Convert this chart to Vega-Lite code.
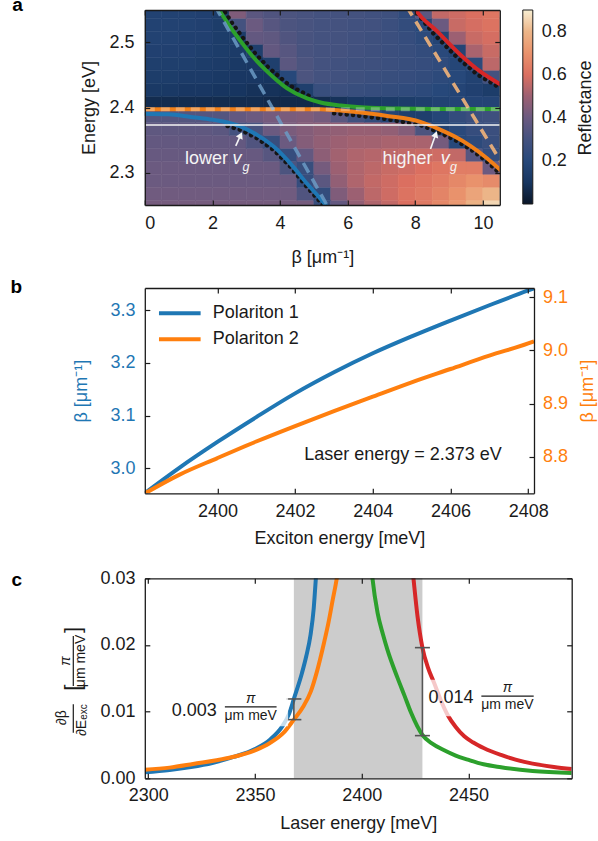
{
"$schema": "https://vega.github.io/schema/vega-lite/v6.json",
"padding": {"left": 9.8, "top": -5, "right": 5, "bottom": 5},
"background": "white",
"config": {
  "font": "Liberation Sans",
  "view": {"stroke": null},
  "axis": {"grid": false, "domain": true, "domainColor": "#1a1a1a", "domainWidth": 1.3, "tickSize": -5, "tickColor": "#1a1a1a", "tickWidth": 1.2, "labelFont": "Liberation Sans", "labelFontSize": 18, "labelColor": "#1a1a1a", "titleFont": "Liberation Sans", "titleFontSize": 18, "titleFontWeight": "normal", "titleColor": "#1a1a1a"},
  "legend": {"labelFont": "Liberation Sans", "labelFontSize": 18, "labelColor": "#1a1a1a"},
  "text": {"font": "Liberation Sans", "fontSize": 18}
},
"datasets": {
  "heat": [
{"b":0,"e":2.2375,"r":0.42},{"b":0.5,"e":2.2375,"r":0.42},{"b":1,"e":2.2375,"r":0.42},{"b":1.5,"e":2.2375,"r":0.42},{"b":2,"e":2.2375,"r":0.42},{"b":2.5,"e":2.2375,"r":0.42},{"b":3,"e":2.2375,"r":0.42},{"b":3.5,"e":2.2375,"r":0.42},{"b":4,"e":2.2375,"r":0.42},{"b":4.5,"e":2.2375,"r":0.42},{"b":5,"e":2.2375,"r":0.26},{"b":5.5,"e":2.2375,"r":0.38},{"b":6,"e":2.2375,"r":0.48},{"b":6.5,"e":2.2375,"r":0.53},{"b":7,"e":2.2375,"r":0.56},{"b":7.5,"e":2.2375,"r":0.6},{"b":8,"e":2.2375,"r":0.63},{"b":8.5,"e":2.2375,"r":0.67},{"b":9,"e":2.2375,"r":0.72},{"b":9.5,"e":2.2375,"r":0.79},{"b":10,"e":2.2375,"r":0.86},
{"b":0,"e":2.2575,"r":0.41},{"b":0.5,"e":2.2575,"r":0.41},{"b":1,"e":2.2575,"r":0.41},{"b":1.5,"e":2.2575,"r":0.41},{"b":2,"e":2.2575,"r":0.41},{"b":2.5,"e":2.2575,"r":0.41},{"b":3,"e":2.2575,"r":0.41},{"b":3.5,"e":2.2575,"r":0.41},{"b":4,"e":2.2575,"r":0.41},{"b":4.5,"e":2.2575,"r":0.33},{"b":5,"e":2.2575,"r":0.24},{"b":5.5,"e":2.2575,"r":0.44},{"b":6,"e":2.2575,"r":0.5},{"b":6.5,"e":2.2575,"r":0.55},{"b":7,"e":2.2575,"r":0.58},{"b":7.5,"e":2.2575,"r":0.61},{"b":8,"e":2.2575,"r":0.63},{"b":8.5,"e":2.2575,"r":0.66},{"b":9,"e":2.2575,"r":0.7},{"b":9.5,"e":2.2575,"r":0.75},{"b":10,"e":2.2575,"r":0.8},
{"b":0,"e":2.2775,"r":0.4},{"b":0.5,"e":2.2775,"r":0.4},{"b":1,"e":2.2775,"r":0.4},{"b":1.5,"e":2.2775,"r":0.4},{"b":2,"e":2.2775,"r":0.4},{"b":2.5,"e":2.2775,"r":0.4},{"b":3,"e":2.2775,"r":0.4},{"b":3.5,"e":2.2775,"r":0.4},{"b":4,"e":2.2775,"r":0.4},{"b":4.5,"e":2.2775,"r":0.25},{"b":5,"e":2.2775,"r":0.36},{"b":5.5,"e":2.2775,"r":0.48},{"b":6,"e":2.2775,"r":0.53},{"b":6.5,"e":2.2775,"r":0.56},{"b":7,"e":2.2775,"r":0.58},{"b":7.5,"e":2.2775,"r":0.6},{"b":8,"e":2.2775,"r":0.62},{"b":8.5,"e":2.2775,"r":0.64},{"b":9,"e":2.2775,"r":0.67},{"b":9.5,"e":2.2775,"r":0.7},{"b":10,"e":2.2775,"r":0.68},
{"b":0,"e":2.2975,"r":0.4},{"b":0.5,"e":2.2975,"r":0.4},{"b":1,"e":2.2975,"r":0.4},{"b":1.5,"e":2.2975,"r":0.4},{"b":2,"e":2.2975,"r":0.4},{"b":2.5,"e":2.2975,"r":0.4},{"b":3,"e":2.2975,"r":0.4},{"b":3.5,"e":2.2975,"r":0.4},{"b":4,"e":2.2975,"r":0.32},{"b":4.5,"e":2.2975,"r":0.26},{"b":5,"e":2.2975,"r":0.42},{"b":5.5,"e":2.2975,"r":0.5},{"b":6,"e":2.2975,"r":0.53},{"b":6.5,"e":2.2975,"r":0.55},{"b":7,"e":2.2975,"r":0.57},{"b":7.5,"e":2.2975,"r":0.58},{"b":8,"e":2.2975,"r":0.6},{"b":8.5,"e":2.2975,"r":0.62},{"b":9,"e":2.2975,"r":0.64},{"b":9.5,"e":2.2975,"r":0.64},{"b":10,"e":2.2975,"r":0.4},
{"b":0,"e":2.3175,"r":0.39},{"b":0.5,"e":2.3175,"r":0.39},{"b":1,"e":2.3175,"r":0.39},{"b":1.5,"e":2.3175,"r":0.39},{"b":2,"e":2.3175,"r":0.39},{"b":2.5,"e":2.3175,"r":0.39},{"b":3,"e":2.3175,"r":0.39},{"b":3.5,"e":2.3175,"r":0.35},{"b":4,"e":2.3175,"r":0.25},{"b":4.5,"e":2.3175,"r":0.38},{"b":5,"e":2.3175,"r":0.47},{"b":5.5,"e":2.3175,"r":0.51},{"b":6,"e":2.3175,"r":0.53},{"b":6.5,"e":2.3175,"r":0.54},{"b":7,"e":2.3175,"r":0.55},{"b":7.5,"e":2.3175,"r":0.56},{"b":8,"e":2.3175,"r":0.57},{"b":8.5,"e":2.3175,"r":0.58},{"b":9,"e":2.3175,"r":0.56},{"b":9.5,"e":2.3175,"r":0.35},{"b":10,"e":2.3175,"r":0.24},
{"b":0,"e":2.3375,"r":0.38},{"b":0.5,"e":2.3375,"r":0.38},{"b":1,"e":2.3375,"r":0.38},{"b":1.5,"e":2.3375,"r":0.38},{"b":2,"e":2.3375,"r":0.38},{"b":2.5,"e":2.3375,"r":0.38},{"b":3,"e":2.3375,"r":0.33},{"b":3.5,"e":2.3375,"r":0.26},{"b":4,"e":2.3375,"r":0.4},{"b":4.5,"e":2.3375,"r":0.45},{"b":5,"e":2.3375,"r":0.48},{"b":5.5,"e":2.3375,"r":0.5},{"b":6,"e":2.3375,"r":0.51},{"b":6.5,"e":2.3375,"r":0.51},{"b":7,"e":2.3375,"r":0.52},{"b":7.5,"e":2.3375,"r":0.52},{"b":8,"e":2.3375,"r":0.52},{"b":8.5,"e":2.3375,"r":0.42},{"b":9,"e":2.3375,"r":0.2},{"b":9.5,"e":2.3375,"r":0.22},{"b":10,"e":2.3375,"r":0.26},
{"b":0,"e":2.3575,"r":0.37},{"b":0.5,"e":2.3575,"r":0.37},{"b":1,"e":2.3575,"r":0.37},{"b":1.5,"e":2.3575,"r":0.37},{"b":2,"e":2.3575,"r":0.36},{"b":2.5,"e":2.3575,"r":0.3},{"b":3,"e":2.3575,"r":0.31},{"b":3.5,"e":2.3575,"r":0.4},{"b":4,"e":2.3575,"r":0.43},{"b":4.5,"e":2.3575,"r":0.45},{"b":5,"e":2.3575,"r":0.47},{"b":5.5,"e":2.3575,"r":0.48},{"b":6,"e":2.3575,"r":0.49},{"b":6.5,"e":2.3575,"r":0.49},{"b":7,"e":2.3575,"r":0.48},{"b":7.5,"e":2.3575,"r":0.45},{"b":8,"e":2.3575,"r":0.32},{"b":8.5,"e":2.3575,"r":0.17},{"b":9,"e":2.3575,"r":0.21},{"b":9.5,"e":2.3575,"r":0.25},{"b":10,"e":2.3575,"r":0.27},
{"b":0,"e":2.3775,"r":0.34},{"b":0.5,"e":2.3775,"r":0.34},{"b":1,"e":2.3775,"r":0.34},{"b":1.5,"e":2.3775,"r":0.34},{"b":2,"e":2.3775,"r":0.34},{"b":2.5,"e":2.3775,"r":0.38},{"b":3,"e":2.3775,"r":0.4},{"b":3.5,"e":2.3775,"r":0.42},{"b":4,"e":2.3775,"r":0.43},{"b":4.5,"e":2.3775,"r":0.44},{"b":5,"e":2.3775,"r":0.42},{"b":5.5,"e":2.3775,"r":0.36},{"b":6,"e":2.3775,"r":0.29},{"b":6.5,"e":2.3775,"r":0.24},{"b":7,"e":2.3775,"r":0.18},{"b":7.5,"e":2.3775,"r":0.15},{"b":8,"e":2.3775,"r":0.15},{"b":8.5,"e":2.3775,"r":0.19},{"b":9,"e":2.3775,"r":0.24},{"b":9.5,"e":2.3775,"r":0.27},{"b":10,"e":2.3775,"r":0.28},
{"b":0,"e":2.3975,"r":0.07},{"b":0.5,"e":2.3975,"r":0.07},{"b":1,"e":2.3975,"r":0.07},{"b":1.5,"e":2.3975,"r":0.07},{"b":2,"e":2.3975,"r":0.07},{"b":2.5,"e":2.3975,"r":0.07},{"b":3,"e":2.3975,"r":0.07},{"b":3.5,"e":2.3975,"r":0.06},{"b":4,"e":2.3975,"r":0.06},{"b":4.5,"e":2.3975,"r":0.06},{"b":5,"e":2.3975,"r":0.07},{"b":5.5,"e":2.3975,"r":0.09},{"b":6,"e":2.3975,"r":0.11},{"b":6.5,"e":2.3975,"r":0.12},{"b":7,"e":2.3975,"r":0.13},{"b":7.5,"e":2.3975,"r":0.14},{"b":8,"e":2.3975,"r":0.15},{"b":8.5,"e":2.3975,"r":0.17},{"b":9,"e":2.3975,"r":0.18},{"b":9.5,"e":2.3975,"r":0.18},{"b":10,"e":2.3975,"r":0.18},
{"b":0,"e":2.4175,"r":0.12},{"b":0.5,"e":2.4175,"r":0.12},{"b":1,"e":2.4175,"r":0.11},{"b":1.5,"e":2.4175,"r":0.11},{"b":2,"e":2.4175,"r":0.1},{"b":2.5,"e":2.4175,"r":0.1},{"b":3,"e":2.4175,"r":0.09},{"b":3.5,"e":2.4175,"r":0.09},{"b":4,"e":2.4175,"r":0.08},{"b":4.5,"e":2.4175,"r":0.15},{"b":5,"e":2.4175,"r":0.26},{"b":5.5,"e":2.4175,"r":0.27},{"b":6,"e":2.4175,"r":0.26},{"b":6.5,"e":2.4175,"r":0.25},{"b":7,"e":2.4175,"r":0.24},{"b":7.5,"e":2.4175,"r":0.23},{"b":8,"e":2.4175,"r":0.22},{"b":8.5,"e":2.4175,"r":0.2},{"b":9,"e":2.4175,"r":0.18},{"b":9.5,"e":2.4175,"r":0.16},{"b":10,"e":2.4175,"r":0.14},
{"b":0,"e":2.4375,"r":0.14},{"b":0.5,"e":2.4375,"r":0.14},{"b":1,"e":2.4375,"r":0.13},{"b":1.5,"e":2.4375,"r":0.13},{"b":2,"e":2.4375,"r":0.12},{"b":2.5,"e":2.4375,"r":0.11},{"b":3,"e":2.4375,"r":0.11},{"b":3.5,"e":2.4375,"r":0.1},{"b":4,"e":2.4375,"r":0.2},{"b":4.5,"e":2.4375,"r":0.32},{"b":5,"e":2.4375,"r":0.3},{"b":5.5,"e":2.4375,"r":0.29},{"b":6,"e":2.4375,"r":0.28},{"b":6.5,"e":2.4375,"r":0.27},{"b":7,"e":2.4375,"r":0.26},{"b":7.5,"e":2.4375,"r":0.25},{"b":8,"e":2.4375,"r":0.24},{"b":8.5,"e":2.4375,"r":0.22},{"b":9,"e":2.4375,"r":0.2},{"b":9.5,"e":2.4375,"r":0.17},{"b":10,"e":2.4375,"r":0.3},
{"b":0,"e":2.4575,"r":0.15},{"b":0.5,"e":2.4575,"r":0.15},{"b":1,"e":2.4575,"r":0.15},{"b":1.5,"e":2.4575,"r":0.14},{"b":2,"e":2.4575,"r":0.13},{"b":2.5,"e":2.4575,"r":0.12},{"b":3,"e":2.4575,"r":0.11},{"b":3.5,"e":2.4575,"r":0.15},{"b":4,"e":2.4575,"r":0.36},{"b":4.5,"e":2.4575,"r":0.32},{"b":5,"e":2.4575,"r":0.3},{"b":5.5,"e":2.4575,"r":0.29},{"b":6,"e":2.4575,"r":0.28},{"b":6.5,"e":2.4575,"r":0.28},{"b":7,"e":2.4575,"r":0.27},{"b":7.5,"e":2.4575,"r":0.26},{"b":8,"e":2.4575,"r":0.25},{"b":8.5,"e":2.4575,"r":0.23},{"b":9,"e":2.4575,"r":0.19},{"b":9.5,"e":2.4575,"r":0.22},{"b":10,"e":2.4575,"r":0.55},
{"b":0,"e":2.4775,"r":0.16},{"b":0.5,"e":2.4775,"r":0.16},{"b":1,"e":2.4775,"r":0.16},{"b":1.5,"e":2.4775,"r":0.15},{"b":2,"e":2.4775,"r":0.14},{"b":2.5,"e":2.4775,"r":0.13},{"b":3,"e":2.4775,"r":0.15},{"b":3.5,"e":2.4775,"r":0.38},{"b":4,"e":2.4775,"r":0.35},{"b":4.5,"e":2.4775,"r":0.31},{"b":5,"e":2.4775,"r":0.3},{"b":5.5,"e":2.4775,"r":0.3},{"b":6,"e":2.4775,"r":0.29},{"b":6.5,"e":2.4775,"r":0.28},{"b":7,"e":2.4775,"r":0.27},{"b":7.5,"e":2.4775,"r":0.26},{"b":8,"e":2.4775,"r":0.24},{"b":8.5,"e":2.4775,"r":0.21},{"b":9,"e":2.4775,"r":0.18},{"b":9.5,"e":2.4775,"r":0.52},{"b":10,"e":2.4775,"r":0.57},
{"b":0,"e":2.4975,"r":0.17},{"b":0.5,"e":2.4975,"r":0.17},{"b":1,"e":2.4975,"r":0.16},{"b":1.5,"e":2.4975,"r":0.16},{"b":2,"e":2.4975,"r":0.14},{"b":2.5,"e":2.4975,"r":0.14},{"b":3,"e":2.4975,"r":0.38},{"b":3.5,"e":2.4975,"r":0.37},{"b":4,"e":2.4975,"r":0.33},{"b":4.5,"e":2.4975,"r":0.31},{"b":5,"e":2.4975,"r":0.3},{"b":5.5,"e":2.4975,"r":0.3},{"b":6,"e":2.4975,"r":0.29},{"b":6.5,"e":2.4975,"r":0.28},{"b":7,"e":2.4975,"r":0.27},{"b":7.5,"e":2.4975,"r":0.25},{"b":8,"e":2.4975,"r":0.22},{"b":8.5,"e":2.4975,"r":0.18},{"b":9,"e":2.4975,"r":0.5},{"b":9.5,"e":2.4975,"r":0.57},{"b":10,"e":2.4975,"r":0.59},
{"b":0,"e":2.5175,"r":0.17},{"b":0.5,"e":2.5175,"r":0.17},{"b":1,"e":2.5175,"r":0.17},{"b":1.5,"e":2.5175,"r":0.16},{"b":2,"e":2.5175,"r":0.14},{"b":2.5,"e":2.5175,"r":0.3},{"b":3,"e":2.5175,"r":0.4},{"b":3.5,"e":2.5175,"r":0.35},{"b":4,"e":2.5175,"r":0.32},{"b":4.5,"e":2.5175,"r":0.31},{"b":5,"e":2.5175,"r":0.3},{"b":5.5,"e":2.5175,"r":0.3},{"b":6,"e":2.5175,"r":0.29},{"b":6.5,"e":2.5175,"r":0.29},{"b":7,"e":2.5175,"r":0.27},{"b":7.5,"e":2.5175,"r":0.24},{"b":8,"e":2.5175,"r":0.2},{"b":8.5,"e":2.5175,"r":0.4},{"b":9,"e":2.5175,"r":0.57},{"b":9.5,"e":2.5175,"r":0.59},{"b":10,"e":2.5175,"r":0.61},
{"b":0,"e":2.5375,"r":0.17},{"b":0.5,"e":2.5375,"r":0.17},{"b":1,"e":2.5375,"r":0.17},{"b":1.5,"e":2.5375,"r":0.16},{"b":2,"e":2.5375,"r":0.14},{"b":2.5,"e":2.5375,"r":0.44},{"b":3,"e":2.5375,"r":0.36},{"b":3.5,"e":2.5375,"r":0.33},{"b":4,"e":2.5375,"r":0.32},{"b":4.5,"e":2.5375,"r":0.31},{"b":5,"e":2.5375,"r":0.3},{"b":5.5,"e":2.5375,"r":0.3},{"b":6,"e":2.5375,"r":0.3},{"b":6.5,"e":2.5375,"r":0.29},{"b":7,"e":2.5375,"r":0.28},{"b":7.5,"e":2.5375,"r":0.23},{"b":8,"e":2.5375,"r":0.36},{"b":8.5,"e":2.5375,"r":0.56},{"b":9,"e":2.5375,"r":0.58},{"b":9.5,"e":2.5375,"r":0.6},{"b":10,"e":2.5375,"r":0.62}
  ],
  "pa": [
{"s":"G","b":2.05,"e":2.562},{"s":"G","b":2.19,"e":2.5507},{"s":"G","b":2.5,"e":2.526},{"s":"G","b":2.84,"e":2.5017},{"s":"G","b":3.2,"e":2.478},{"s":"G","b":3.57,"e":2.4578},{"s":"G","b":4.21,"e":2.4294},{"s":"G","b":4.8,"e":2.4139},{"s":"G","b":5.2,"e":2.4077},{"s":"G","b":5.8,"e":2.403},{"s":"G","b":6.5,"e":2.4},{"s":"G","b":7.5,"e":2.3983},{"s":"G","b":8.5,"e":2.3976},{"s":"G","b":10.6,"e":2.3975},
{"s":"B","b":-0.1,"e":2.3906},{"s":"B","b":0.7,"e":2.3895},{"s":"B","b":1.36,"e":2.3855},{"s":"B","b":1.9,"e":2.382},{"s":"B","b":2.35,"e":2.378},{"s":"B","b":2.84,"e":2.3705},{"s":"B","b":3.33,"e":2.3575},{"s":"B","b":3.82,"e":2.3395},{"s":"B","b":4.31,"e":2.3136},{"s":"B","b":4.8,"e":2.2826},{"s":"B","b":5.2,"e":2.2594},{"s":"B","b":5.5,"e":2.24},
{"s":"O","b":-0.1,"e":2.3975},{"s":"O","b":4.5,"e":2.3975},{"s":"O","b":5.2,"e":2.3972},{"s":"O","b":5.6,"e":2.396},{"s":"O","b":6.18,"e":2.3933},{"s":"O","b":7.17,"e":2.387},{"s":"O","b":8.15,"e":2.378},{"s":"O","b":8.65,"e":2.368},{"s":"O","b":9.14,"e":2.356},{"s":"O","b":9.63,"e":2.341},{"s":"O","b":10.12,"e":2.322},{"s":"O","b":10.6,"e":2.3},
{"s":"R","b":7.9,"e":2.5607},{"s":"R","b":8.01,"e":2.5507},{"s":"R","b":8.65,"e":2.5171},{"s":"R","b":9.34,"e":2.4809},{"s":"R","b":9.93,"e":2.4551},{"s":"R","b":10.6,"e":2.433},
{"s":"PB","b":2.08,"e":2.556},{"s":"PB","b":5.43,"e":2.246},
{"s":"PT","b":7.74,"e":2.556},{"s":"PT","b":10.55,"e":2.315},
{"s":"DG","b":2.27,"e":2.5547},{"s":"DG","b":2.58,"e":2.53},{"s":"DG","b":2.92,"e":2.5057},{"s":"DG","b":3.28,"e":2.482},{"s":"DG","b":3.65,"e":2.4618},{"s":"DG","b":4.29,"e":2.4334},{"s":"DG","b":4.85,"e":2.418},
{"s":"DB","b":2.45,"e":2.3715},{"s":"DB","b":2.84,"e":2.3655},{"s":"DB","b":3.33,"e":2.3525},{"s":"DB","b":3.82,"e":2.3345},{"s":"DB","b":4.31,"e":2.3086},{"s":"DB","b":4.8,"e":2.2776},{"s":"DB","b":5.2,"e":2.2544},{"s":"DB","b":5.3,"e":2.248},
{"s":"DO","b":5.6,"e":2.391},{"s":"DO","b":6.18,"e":2.3883},{"s":"DO","b":7.17,"e":2.382},{"s":"DO","b":8.15,"e":2.373},{"s":"DO","b":8.65,"e":2.363},{"s":"DO","b":9.14,"e":2.351},{"s":"DO","b":9.63,"e":2.336},{"s":"DO","b":10.12,"e":2.317},{"s":"DO","b":10.45,"e":2.301},
{"s":"DR","b":7.95,"e":2.552},{"s":"DR","b":8.55,"e":2.5131},{"s":"DR","b":9.24,"e":2.4769},{"s":"DR","b":9.83,"e":2.4511},{"s":"DR","b":10.45,"e":2.432}
  ],
  "pb": [
{"E":2398.13,"b1":2.953,"b2":8.7316},{"E":2399,"b1":3.0,"b2":8.766},{"E":2400,"b1":3.05,"b2":8.798},{"E":2401,"b1":3.097,"b2":8.829},{"E":2402,"b1":3.142,"b2":8.858},{"E":2403,"b1":3.182,"b2":8.886},{"E":2404,"b1":3.218,"b2":8.913},{"E":2405,"b1":3.25,"b2":8.94},{"E":2406,"b1":3.28,"b2":8.965},{"E":2407,"b1":3.309,"b2":8.99},{"E":2408,"b1":3.337,"b2":9.013},{"E":2408.15,"b1":3.341,"b2":9.017}
  ],
  "pc": [
{"s":"b","E":2298.4,"v":0.0009},{"s":"b","E":2310,"v":0.00125},{"s":"b","E":2320,"v":0.0017},{"s":"b","E":2330,"v":0.0023},{"s":"b","E":2340,"v":0.0032},{"s":"b","E":2350,"v":0.0044},{"s":"b","E":2357,"v":0.0058},{"s":"b","E":2363,"v":0.0079},{"s":"b","E":2366,"v":0.0097},{"s":"b","E":2368.2,"v":0.0119},{"s":"b","E":2372,"v":0.0158},{"s":"b","E":2374,"v":0.0183},{"s":"b","E":2376,"v":0.0215},{"s":"b","E":2377.5,"v":0.0255},{"s":"b","E":2378.5,"v":0.03},{"s":"b","E":2379.3,"v":0.034},
{"s":"o","E":2298.4,"v":0.0013},{"s":"o","E":2310,"v":0.0016},{"s":"o","E":2321,"v":0.00215},{"s":"o","E":2336.7,"v":0.003},{"s":"o","E":2350,"v":0.0042},{"s":"o","E":2357,"v":0.0053},{"s":"o","E":2363.3,"v":0.0068},{"s":"o","E":2368.2,"v":0.0088},{"s":"o","E":2372.7,"v":0.0108},{"s":"o","E":2376.1,"v":0.013},{"s":"o","E":2379,"v":0.016},{"s":"o","E":2382.3,"v":0.0203},{"s":"o","E":2384.5,"v":0.0235},{"s":"o","E":2386.3,"v":0.0266},{"s":"o","E":2388.3,"v":0.03},{"s":"o","E":2389.3,"v":0.0322},
{"s":"g","E":2404.3,"v":0.0322},{"s":"g","E":2405,"v":0.03},{"s":"g","E":2407.4,"v":0.0248},{"s":"g","E":2410,"v":0.0215},{"s":"g","E":2412,"v":0.0193},{"s":"g","E":2416.7,"v":0.0151},{"s":"g","E":2420,"v":0.0124},{"s":"g","E":2423,"v":0.0099},{"s":"g","E":2428.4,"v":0.0065},{"s":"g","E":2433,"v":0.0052},{"s":"g","E":2438.6,"v":0.0042},{"s":"g","E":2444,"v":0.0034},{"s":"g","E":2449.6,"v":0.0028},{"s":"g","E":2457,"v":0.0021},{"s":"g","E":2465.2,"v":0.00166},{"s":"g","E":2480,"v":0.0011},{"s":"g","E":2498.3,"v":0.0008},
{"s":"r","E":2423.5,"v":0.0322},{"s":"r","E":2424.2,"v":0.03},{"s":"r","E":2426.1,"v":0.0243},{"s":"r","E":2428.4,"v":0.0196},{"s":"r","E":2431,"v":0.0166},{"s":"r","E":2433.9,"v":0.0143},{"s":"r","E":2437,"v":0.0117},{"s":"r","E":2440.2,"v":0.0095},{"s":"r","E":2444,"v":0.0077},{"s":"r","E":2448,"v":0.0063},{"s":"r","E":2452,"v":0.0054},{"s":"r","E":2457.3,"v":0.0045},{"s":"r","E":2465.2,"v":0.0035},{"s":"r","E":2472,"v":0.0028},{"s":"r","E":2480,"v":0.0022},{"s":"r","E":2490,"v":0.0017},{"s":"r","E":2498.3,"v":0.0014}
  ],
  "eb": [{"E":2368.2,"lo":0.0088,"hi":0.0119},{"E":2428.4,"lo":0.0064,"hi":0.0196}]
},
"vconcat": [
 {"vconcat": [
  {
   "width": 355, "height": 195,
   "layer": [
    {"data": {"name": "heat"},
     "transform": [{"calculate": "datum.b + 0.5", "as": "b2"}, {"calculate": "datum.e + 0.02", "as": "e2"}],
     "mark": {"type": "rect", "clip": true, "strokeWidth": 0.6},
     "encoding": {
      "x": {"field": "b", "type": "quantitative", "scale": {"domain": [0, 10.5], "nice": false, "zero": false}, "axis": {"values": [0,2,4,6,8,10], "format": "d", "title": "β [μm⁻¹]", "labelPadding": 14.9, "titlePadding": 16, "zindex": 1}},
      "x2": {"field": "b2"},
      "y": {"field": "e", "type": "quantitative", "scale": {"domain": [2.25, 2.55], "nice": false, "zero": false}, "axis": {"values": [2.3,2.4,2.5], "format": ".1f", "title": "Energy [eV]", "labelPadding": 15.7, "titlePadding": 11, "zindex": 1}},
      "y2": {"field": "e2"},
      "color": {"field": "r", "type": "quantitative", "scale": {"type": "linear", "domain": [0,0.1,0.2,0.3,0.4,0.5,0.6,0.7,0.8,0.9], "range": ["#0a1628","#173560","#27487a","#44527f","#6b5a80","#9c6072","#db6f60","#e9926c","#ecb588","#f7eed2"], "interpolate": "rgb", "clamp": true},
        "legend": {"orient": "right", "offset": 21.5, "padding": 0, "title": null, "direction": "vertical", "gradientLength": 194, "gradientThickness": 10, "values": [0.2,0.4,0.6,0.8], "format": ".1f", "labelFontSize": 18, "labelOffset": 9, "gradientStrokeColor": "#1a1a1a", "gradientStrokeWidth": 1, "labelOverlap": false}},
      "stroke": {"field": "r", "type": "quantitative", "scale": {"type": "linear", "domain": [0,0.1,0.2,0.3,0.4,0.5,0.6,0.7,0.8,0.9], "range": ["#0a1628","#173560","#27487a","#44527f","#6b5a80","#9c6072","#db6f60","#e9926c","#ecb588","#f7eed2"], "interpolate": "rgb", "clamp": true}, "legend": null}
     }},
    {"data": {"name": "pa"}, "transform": [{"filter": "indexof(['DG','DB','DO','DR'], datum.s) >= 0"}],
     "mark": {"type": "line", "color": "#151515", "strokeWidth": 4.5, "strokeDash": [0.1, 6.2], "strokeCap": "round", "clip": true},
     "encoding": {"x": {"field": "b", "type": "quantitative", "axis": null}, "y": {"field": "e", "type": "quantitative", "axis": null}, "detail": {"field": "s"}}},
    {"data": {"name": "pa"}, "transform": [{"filter": "datum.s === 'B'"}],
     "mark": {"type": "line", "color": "#1f77b4", "strokeWidth": 4, "interpolate": "monotone", "clip": true},
     "encoding": {"x": {"field": "b", "type": "quantitative", "axis": null}, "y": {"field": "e", "type": "quantitative", "axis": null}}},
    {"data": {"name": "pa"}, "transform": [{"filter": "datum.s === 'G'"}],
     "mark": {"type": "line", "color": "#2ca02c", "strokeWidth": 4, "interpolate": "monotone", "clip": true},
     "encoding": {"x": {"field": "b", "type": "quantitative", "axis": {"orient": "top", "values": [0,2,4,6,8,10], "labels": false, "title": null, "zindex": 1}}, "y": {"field": "e", "type": "quantitative", "axis": {"orient": "right", "values": [2.3,2.4,2.5], "labels": false, "title": null, "zindex": 1}}}},
    {"data": {"name": "pa"}, "transform": [{"filter": "datum.s === 'O'"}],
     "mark": {"type": "line", "color": "#f07f18", "strokeWidth": 4, "interpolate": "monotone", "clip": true},
     "encoding": {"x": {"field": "b", "type": "quantitative", "axis": null}, "y": {"field": "e", "type": "quantitative", "axis": null}}},
    {"data": {"name": "pa"}, "transform": [{"filter": "datum.s === 'R'"}],
     "mark": {"type": "line", "color": "#d62728", "strokeWidth": 4, "interpolate": "monotone", "clip": true},
     "encoding": {"x": {"field": "b", "type": "quantitative", "axis": null}, "y": {"field": "e", "type": "quantitative", "axis": null}}},
    {"data": {"name": "pa"}, "transform": [{"filter": "datum.s === 'PB'"}],
     "mark": {"type": "line", "color": "#6b9ac4", "opacity": 0.85, "strokeWidth": 3.5, "strokeDash": [11, 7], "clip": true},
     "encoding": {"x": {"field": "b", "type": "quantitative", "axis": null}, "y": {"field": "e", "type": "quantitative", "axis": null}}},
    {"data": {"name": "pa"}, "transform": [{"filter": "datum.s === 'PT'"}],
     "mark": {"type": "line", "color": "#f2b47a", "opacity": 0.9, "strokeWidth": 3.5, "strokeDash": [11, 7], "clip": true},
     "encoding": {"x": {"field": "b", "type": "quantitative", "axis": null}, "y": {"field": "e", "type": "quantitative", "axis": null}}},
    {"data": {"values": [{}]}, "mark": {"type": "rule", "color": "white", "opacity": 0.3, "strokeWidth": 4, "strokeDash": [9, 6]},
     "encoding": {"y": {"datum": 2.3975, "type": "quantitative", "axis": null}}},
    {"data": {"values": [{}]}, "mark": {"type": "rule", "color": "#f4f4f4", "strokeWidth": 1.6},
     "encoding": {"y": {"datum": 2.373, "type": "quantitative", "axis": null}}},
    {"data": {"values": [{}]}, "mark": {"type": "rule", "color": "#f4f4f4", "strokeWidth": 1.6},
     "encoding": {"x": {"datum": 2.69, "type": "quantitative", "axis": null}, "x2": {"datum": 2.835}, "y": {"datum": 2.341, "type": "quantitative", "axis": null}, "y2": {"datum": 2.3574}}},
    {"data": {"values": [{}]}, "mark": {"type": "point", "shape": "triangle-up", "filled": true, "color": "#f4f4f4", "opacity": 1, "size": 55, "angle": 25.6},
     "encoding": {"x": {"datum": 2.835, "type": "quantitative", "axis": null}, "y": {"datum": 2.3574, "type": "quantitative", "axis": null}}},
    {"data": {"values": [{}]}, "mark": {"type": "rule", "color": "#f4f4f4", "strokeWidth": 1.6},
     "encoding": {"x": {"datum": 8.45, "type": "quantitative", "axis": null}, "x2": {"datum": 8.606}, "y": {"datum": 2.3363, "type": "quantitative", "axis": null}, "y2": {"datum": 2.3589}}},
    {"data": {"values": [{}]}, "mark": {"type": "point", "shape": "triangle-up", "filled": true, "color": "#f4f4f4", "opacity": 1, "size": 55, "angle": 20},
     "encoding": {"x": {"datum": 8.606, "type": "quantitative", "axis": null}, "y": {"datum": 2.3589, "type": "quantitative", "axis": null}}},
    {"data": {"values": [{}]}, "mark": {"type": "text", "text": "lower", "color": "#f4f4f4", "align": "left", "baseline": "alphabetic", "fontSize": 18},
     "encoding": {"x": {"datum": 1.19, "type": "quantitative", "axis": null}, "y": {"datum": 2.3126, "type": "quantitative", "axis": null}}},
    {"data": {"values": [{}]}, "mark": {"type": "text", "text": "v", "color": "#f4f4f4", "align": "left", "baseline": "alphabetic", "fontSize": 18, "fontStyle": "italic"},
     "encoding": {"x": {"datum": 2.594, "type": "quantitative", "axis": null}, "y": {"datum": 2.3126, "type": "quantitative", "axis": null}}},
    {"data": {"values": [{}]}, "mark": {"type": "text", "text": "g", "color": "#f4f4f4", "align": "left", "baseline": "alphabetic", "fontSize": 12.5, "fontStyle": "italic"},
     "encoding": {"x": {"datum": 2.89, "type": "quantitative", "axis": null}, "y": {"datum": 2.3023, "type": "quantitative", "axis": null}}},
    {"data": {"values": [{}]}, "mark": {"type": "text", "text": "higher", "color": "#f4f4f4", "align": "left", "baseline": "alphabetic", "fontSize": 18},
     "encoding": {"x": {"datum": 7.03, "type": "quantitative", "axis": null}, "y": {"datum": 2.3126, "type": "quantitative", "axis": null}}},
    {"data": {"values": [{}]}, "mark": {"type": "text", "text": "v", "color": "#f4f4f4", "align": "left", "baseline": "alphabetic", "fontSize": 18, "fontStyle": "italic"},
     "encoding": {"x": {"datum": 8.755, "type": "quantitative", "axis": null}, "y": {"datum": 2.3126, "type": "quantitative", "axis": null}}},
    {"data": {"values": [{}]}, "mark": {"type": "text", "text": "g", "color": "#f4f4f4", "align": "left", "baseline": "alphabetic", "fontSize": 12.5, "fontStyle": "italic"},
     "encoding": {"x": {"datum": 9.03, "type": "quantitative", "axis": null}, "y": {"datum": 2.3023, "type": "quantitative", "axis": null}}},
    {"data": {"values": [{}]}, "mark": {"type": "text", "text": "Reflectance", "color": "#1a1a1a", "align": "center", "baseline": "middle", "fontSize": 18, "angle": 270},
     "encoding": {"x": {"datum": 13.04, "type": "quantitative", "axis": null}, "y": {"datum": 2.3992, "type": "quantitative", "axis": null}}},
    {"data": {"values": [{}]}, "mark": {"type": "text", "text": "a", "color": "#000000", "align": "left", "baseline": "alphabetic", "fontSize": 19, "fontWeight": "bold"},
     "encoding": {"x": {"datum": -3.919, "type": "quantitative", "axis": null}, "y": {"datum": 2.5485, "type": "quantitative", "axis": null}}}
   ],
   "resolve": {"axis": {"x": "independent", "y": "independent"}}
  },
  {
   "width": 389.2, "height": 205.3,
   "layer": [
    {"data": {"name": "pb"}, "mark": {"type": "line", "strokeWidth": 4, "interpolate": "monotone", "clip": true},
     "encoding": {
      "x": {"field": "E", "type": "quantitative", "scale": {"domain": [2398.13, 2408.15], "nice": false, "zero": false}, "axis": {"values": [2400,2402,2404,2406,2408], "format": "d", "title": "Exciton energy [meV]", "labelPadding": 14.2, "titlePadding": 9.2, "zindex": 1}},
      "y": {"field": "b1", "type": "quantitative", "scale": {"domain": [2.9526, 3.3417], "nice": false, "zero": false}, "axis": {"values": [3.0,3.1,3.2,3.3], "format": ".1f", "labelColor": "#1f77b4", "titleColor": "#1f77b4", "title": "β [μm⁻¹]", "labelPadding": 14.8, "titlePadding": 19.5, "zindex": 1}},
      "color": {"datum": "Polariton 1", "type": "nominal", "scale": {"domain": ["Polariton 1", "Polariton 2"], "range": ["#1f77b4", "#ff7f0e"]},
        "legend": {"orient": "none", "legendX": 20.5, "legendY": 10.75, "title": null, "symbolType": "M-1.7,0L1.7,0", "symbolStrokeWidth": 4, "symbolSize": 600, "labelFontSize": 18, "labelOffset": 18.5, "rowPadding": 2, "padding": 0}}
     }},
    {"data": {"name": "pb"}, "mark": {"type": "line", "strokeWidth": 4, "interpolate": "monotone", "clip": true},
     "encoding": {
      "x": {"field": "E", "type": "quantitative", "axis": {"orient": "top", "values": [2400,2402,2404,2406,2408], "labels": false, "title": null, "zindex": 1}},
      "y": {"field": "b2", "type": "quantitative", "scale": {"domain": [8.7319, 9.1169], "nice": false, "zero": false}, "axis": {"orient": "right", "values": [8.8,8.9,9.0,9.1], "format": ".1f", "labelColor": "#ff7f0e", "titleColor": "#ff7f0e", "title": "β [μm⁻¹]", "titleAngle": 270, "labelPadding": 13.4, "titlePadding": 29, "zindex": 1}},
      "color": {"datum": "Polariton 2", "type": "nominal"}
     }},
    {"data": {"values": [{}]}, "mark": {"type": "text", "text": "Laser energy = 2.373 eV", "color": "#1a1a1a", "align": "center", "baseline": "middle", "fontSize": 18},
     "encoding": {"x": {"datum": 2404.78, "type": "quantitative", "axis": null}, "y": {"datum": 3.0247, "type": "quantitative", "scale": {"domain": [2.9526, 3.3417], "nice": false, "zero": false}, "axis": null}}},
    {"data": {"values": [{}]}, "mark": {"type": "text", "text": "b", "color": "#000000", "align": "left", "baseline": "alphabetic", "fontSize": 19, "fontWeight": "bold"},
     "encoding": {"x": {"datum": 2394.675, "type": "quantitative", "axis": null}, "y": {"datum": 3.3328, "type": "quantitative", "scale": {"domain": [2.9526, 3.3417], "nice": false, "zero": false}, "axis": null}}}
   ],
   "resolve": {"scale": {"y": "independent"}, "axis": {"x": "independent", "y": "independent"}}
  }
 ], "spacing": 83, "bounds": "flush"},
 {
  "width": 426.9, "height": 200,
  "layer": [
   {"data": {"values": [{}]}, "mark": {"type": "rect", "color": "#cccccc"},
    "encoding": {
     "x": {"datum": 2368.2, "type": "quantitative", "scale": {"domain": [2298.4, 2498.3], "nice": false, "zero": false}, "axis": {"orient": "top", "values": [2300,2350,2400,2450], "labels": false, "title": null, "zindex": 1}},
     "x2": {"datum": 2428.4},
     "y": {"datum": 0, "type": "quantitative", "scale": {"domain": [0, 0.03], "nice": false, "zero": false}, "axis": {"orient": "right", "values": [0,0.01,0.02,0.03], "labels": false, "title": null, "zindex": 1}},
     "y2": {"datum": 0.03}
    }},
   {"data": {"name": "pc"}, "mark": {"type": "line", "strokeWidth": 4, "interpolate": "monotone", "clip": true},
    "encoding": {
     "x": {"field": "E", "type": "quantitative", "axis": {"values": [2300,2350,2400,2450], "format": "d", "title": "Laser energy [meV]", "labelPadding": 13.2, "titlePadding": 10.2, "zindex": 1}},
     "y": {"field": "v", "type": "quantitative", "axis": {"values": [0,0.01,0.02,0.03], "format": ".2f", "title": null, "labelPadding": 14.8, "zindex": 1}},
     "color": {"field": "s", "type": "nominal", "scale": {"domain": ["b","o","g","r"], "range": ["#1f77b4","#ff7f0e","#2ca02c","#d62728"]}, "legend": null}
    }},
   {"data": {"name": "eb"}, "mark": {"type": "rule", "color": "#555555", "strokeWidth": 1.6},
    "encoding": {"x": {"field": "E", "type": "quantitative", "axis": null}, "y": {"field": "lo", "type": "quantitative", "axis": null}, "y2": {"field": "hi"}}},
   {"data": {"name": "eb"}, "mark": {"type": "tick", "orient": "horizontal", "color": "#555555", "size": 15, "thickness": 1.6, "opacity": 1},
    "encoding": {"x": {"field": "E", "type": "quantitative", "axis": null}, "y": {"field": "lo", "type": "quantitative", "axis": null}}},
   {"data": {"name": "eb"}, "mark": {"type": "tick", "orient": "horizontal", "color": "#555555", "size": 15, "thickness": 1.6, "opacity": 1},
    "encoding": {"x": {"field": "E", "type": "quantitative", "axis": null}, "y": {"field": "hi", "type": "quantitative", "axis": null}}},
   {"data": {"values": [{}]}, "mark": {"type": "rect", "color": "white", "opacity": 0.75},
    "encoding": {"x": {"datum": 2312, "type": "quantitative", "axis": null}, "x2": {"datum": 2365.5}, "y": {"datum": 0.0078, "type": "quantitative", "axis": null}, "y2": {"datum": 0.0128}}},
   {"data": {"values": [{}]}, "mark": {"type": "rect", "color": "white", "opacity": 0.75},
    "encoding": {"x": {"datum": 2430.5, "type": "quantitative", "axis": null}, "x2": {"datum": 2483}, "y": {"datum": 0.0093, "type": "quantitative", "axis": null}, "y2": {"datum": 0.0148}}},
   {"data": {"values": [{}]}, "mark": {"type": "text", "text": "0.003", "color": "#1a1a1a", "align": "center", "baseline": "middle", "fontSize": 18},
    "encoding": {"x": {"datum": 2321.5, "type": "quantitative", "axis": null}, "y": {"datum": 0.0101, "type": "quantitative", "axis": null}}},
   {"data": {"values": [{}]}, "mark": {"type": "text", "text": "π", "color": "#1a1a1a", "align": "center", "baseline": "middle", "fontSize": 14, "fontStyle": "italic"},
    "encoding": {"x": {"datum": 2348, "type": "quantitative", "axis": null}, "y": {"datum": 0.01185, "type": "quantitative", "axis": null}}},
   {"data": {"values": [{}]}, "mark": {"type": "rule", "color": "#1a1a1a", "strokeWidth": 1.2},
    "encoding": {"x": {"datum": 2335.9, "type": "quantitative", "axis": null}, "x2": {"datum": 2360.1}, "y": {"datum": 0.0107, "type": "quantitative", "axis": null}}},
   {"data": {"values": [{}]}, "mark": {"type": "text", "text": "μm meV", "color": "#1a1a1a", "align": "center", "baseline": "middle", "fontSize": 14},
    "encoding": {"x": {"datum": 2348, "type": "quantitative", "axis": null}, "y": {"datum": 0.00927, "type": "quantitative", "axis": null}}},
   {"data": {"values": [{}]}, "mark": {"type": "text", "text": "0.014", "color": "#1a1a1a", "align": "center", "baseline": "middle", "fontSize": 18},
    "encoding": {"x": {"datum": 2441.8, "type": "quantitative", "axis": null}, "y": {"datum": 0.0121, "type": "quantitative", "axis": null}}},
   {"data": {"values": [{}]}, "mark": {"type": "text", "text": "π", "color": "#1a1a1a", "align": "center", "baseline": "middle", "fontSize": 14, "fontStyle": "italic"},
    "encoding": {"x": {"datum": 2468.2, "type": "quantitative", "axis": null}, "y": {"datum": 0.01354, "type": "quantitative", "axis": null}}},
   {"data": {"values": [{}]}, "mark": {"type": "rule", "color": "#1a1a1a", "strokeWidth": 1.2},
    "encoding": {"x": {"datum": 2456.0, "type": "quantitative", "axis": null}, "x2": {"datum": 2480.5}, "y": {"datum": 0.01234, "type": "quantitative", "axis": null}}},
   {"data": {"values": [{}]}, "mark": {"type": "text", "text": "μm meV", "color": "#1a1a1a", "align": "center", "baseline": "middle", "fontSize": 14},
    "encoding": {"x": {"datum": 2468.2, "type": "quantitative", "axis": null}, "y": {"datum": 0.01092, "type": "quantitative", "axis": null}}},
   {"data": {"values": [{}]}, "mark": {"type": "text", "text": "∂β", "color": "#1a1a1a", "align": "center", "baseline": "middle", "fontSize": 14, "angle": 270},
    "encoding": {"x": {"datum": 2259.53, "type": "quantitative", "axis": null}, "y": {"datum": 0.00909, "type": "quantitative", "axis": null}}},
   {"data": {"values": [{}]}, "mark": {"type": "rule", "color": "#1a1a1a", "strokeWidth": 1.2},
    "encoding": {"x": {"datum": 2264.92, "type": "quantitative", "axis": null}, "y": {"datum": 0.0111, "type": "quantitative", "axis": null}, "y2": {"datum": 0.00684}}},
   {"data": {"values": [{}]}, "mark": {"type": "text", "text": "∂E", "color": "#1a1a1a", "align": "center", "baseline": "middle", "fontSize": 14, "angle": 270},
    "encoding": {"x": {"datum": 2268.85, "type": "quantitative", "axis": null}, "y": {"datum": 0.00755, "type": "quantitative", "axis": null}}},
   {"data": {"values": [{}]}, "mark": {"type": "text", "text": "exc", "color": "#1a1a1a", "align": "center", "baseline": "middle", "fontSize": 10, "angle": 270},
    "encoding": {"x": {"datum": 2270.07, "type": "quantitative", "axis": null}, "y": {"datum": 0.00995, "type": "quantitative", "axis": null}}},
   {"data": {"values": [{}]}, "mark": {"type": "text", "text": "[", "color": "#1a1a1a", "align": "center", "baseline": "middle", "fontSize": 22, "angle": 270},
    "encoding": {"x": {"datum": 2264.92, "type": "quantitative", "axis": null}, "y": {"datum": 0.01359, "type": "quantitative", "axis": null}}},
   {"data": {"values": [{}]}, "mark": {"type": "text", "text": "π", "color": "#1a1a1a", "align": "center", "baseline": "middle", "fontSize": 14, "angle": 270, "fontStyle": "italic"},
    "encoding": {"x": {"datum": 2261.31, "type": "quantitative", "axis": null}, "y": {"datum": 0.0176, "type": "quantitative", "axis": null}}},
   {"data": {"values": [{}]}, "mark": {"type": "rule", "color": "#1a1a1a", "strokeWidth": 1.2},
    "encoding": {"x": {"datum": 2264.92, "type": "quantitative", "axis": null}, "y": {"datum": 0.02134, "type": "quantitative", "axis": null}, "y2": {"datum": 0.01384}}},
   {"data": {"values": [{}]}, "mark": {"type": "text", "text": "μm meV", "color": "#1a1a1a", "align": "center", "baseline": "middle", "fontSize": 14, "angle": 270},
    "encoding": {"x": {"datum": 2268.49, "type": "quantitative", "axis": null}, "y": {"datum": 0.0176, "type": "quantitative", "axis": null}}},
   {"data": {"values": [{}]}, "mark": {"type": "text", "text": "]", "color": "#1a1a1a", "align": "center", "baseline": "middle", "fontSize": 22, "angle": 270},
    "encoding": {"x": {"datum": 2264.92, "type": "quantitative", "axis": null}, "y": {"datum": 0.02225, "type": "quantitative", "axis": null}}},
   {"data": {"values": [{}]}, "mark": {"type": "text", "text": "c", "color": "#000000", "align": "left", "baseline": "alphabetic", "fontSize": 19, "fontWeight": "bold"},
    "encoding": {"x": {"datum": 2235.94, "type": "quantitative", "axis": null}, "y": {"datum": 0.02885, "type": "quantitative", "axis": null}}}
  ],
  "resolve": {"axis": {"x": "independent", "y": "independent"}}
 }
],
"spacing": 568.3,
"bounds": "flush"
}
